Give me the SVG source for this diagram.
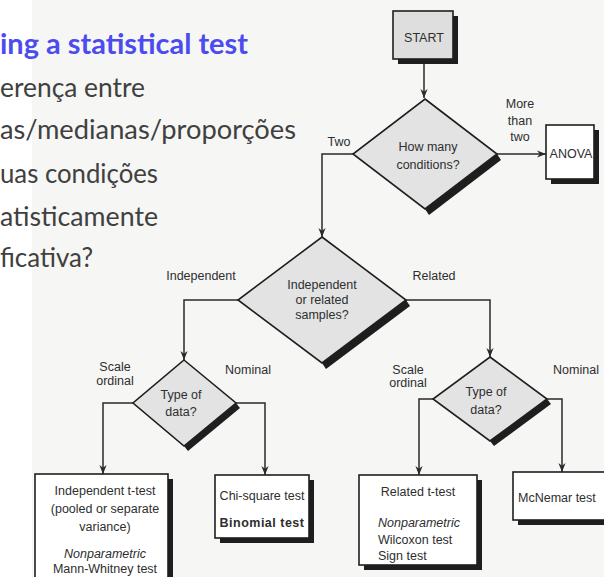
<svg xmlns="http://www.w3.org/2000/svg" width="604" height="577" viewBox="0 0 604 577">
<defs>
<style>
.t{font-family:"Liberation Sans",Arial,sans-serif;font-size:12.5px;fill:#2e2e2e}
.c{text-anchor:middle}
.slide{font-family:Lato,"Open Sans",sans-serif;font-size:27px;fill:#404040}
.title{font-family:Lato,"Open Sans",sans-serif;font-size:28px;font-weight:bold;fill:#4b4bef}
.box{fill:#fff;stroke:#1e1e1e;stroke-width:1.6}
.sh{fill:#1e1e1e}
.dia{fill:#e3e3e3;stroke:#1e1e1e;stroke-width:1.6}
.ln{fill:none;stroke:#2a2a2a;stroke-width:1.5}
</style>
<marker id="ah" viewBox="0 0 10 10" refX="10" refY="5" markerWidth="9" markerHeight="9" markerUnits="userSpaceOnUse" orient="auto">
<path d="M0,1 L10,5 L0,9 L3,5 Z" fill="#2a2a2a"/>
</marker>
</defs>
<rect x="0" y="0" width="604" height="577" fill="#ffffff"/>
<rect x="32" y="0" width="572" height="577" fill="#f6f6f5"/>

<g id="slide-text">
<text class="title" x="0" y="54" textLength="248" lengthAdjust="spacingAndGlyphs">ing a statistical test</text>
<text class="slide" x="0" y="97" textLength="145" lengthAdjust="spacingAndGlyphs">erença entre</text>
<text class="slide" x="0" y="139" textLength="296" lengthAdjust="spacingAndGlyphs">as/medianas/proporções</text>
<text class="slide" x="0" y="183" textLength="158" lengthAdjust="spacingAndGlyphs">uas condições</text>
<text class="slide" x="0" y="226" textLength="158" lengthAdjust="spacingAndGlyphs">atisticamente</text>
<text class="slide" x="0" y="267" textLength="93" lengthAdjust="spacingAndGlyphs">ficativa?</text>
</g>

<g id="connectors">
<path class="ln" d="M424,63 V98" marker-end="url(#ah)"/>
<path class="ln" d="M353,154 H322 V237" marker-end="url(#ah)"/>
<path class="ln" d="M497,154 H546" marker-end="url(#ah)"/>
<path class="ln" d="M238,300 H184 V360" marker-end="url(#ah)"/>
<path class="ln" d="M406,300 H490 V357" marker-end="url(#ah)"/>
<path class="ln" d="M133,403 H103 V474" marker-end="url(#ah)"/>
<path class="ln" d="M236,403 H265 V475" marker-end="url(#ah)"/>
<path class="ln" d="M433,399 H419 V475" marker-end="url(#ah)"/>
<path class="ln" d="M547,399 H562 V472" marker-end="url(#ah)"/>
</g>

<g id="labels">
<text class="t c" x="339" y="146">Two</text>
<text class="t c" x="520" y="108">More</text>
<text class="t c" x="520" y="125">than</text>
<text class="t c" x="520" y="141">two</text>
<text class="t c" x="201" y="280">Independent</text>
<text class="t c" x="434" y="280">Related</text>
<text class="t c" x="115" y="371">Scale</text>
<text class="t c" x="115" y="385">ordinal</text>
<text class="t c" x="248" y="374">Nominal</text>
<text class="t c" x="408" y="374">Scale</text>
<text class="t c" x="408" y="387">ordinal</text>
<text class="t c" x="576" y="374">Nominal</text>
</g>

<g id="start">
<rect class="sh" x="398" y="16" width="60" height="48"/>
<rect x="393" y="11" width="60" height="48" fill="#dedede" stroke="#1e1e1e" stroke-width="1.6"/>
<text class="t c" x="424" y="42">START</text>
</g>

<g id="how-many-conditions">
<polygon class="sh" points="497,154 425,209 429,215 501,160"/>
<polygon class="dia" points="425,99 497,154 425,209 353,154"/>
<text class="t c" x="428" y="151">How many</text>
<text class="t c" x="428" y="169">conditions?</text>
</g>

<g id="anova">
<rect class="sh" x="551" y="130" width="48" height="54"/>
<rect class="box" x="546" y="125" width="48" height="54"/>
<text class="t c" x="571" y="158">ANOVA</text>
</g>

<g id="independent-or-related">
<polygon class="sh" points="406,300 322,363 326,369 410,306"/>
<polygon class="dia" points="322,237 406,300 322,363 238,300"/>
<text class="t c" x="322" y="289">Independent</text>
<text class="t c" x="322" y="304">or related</text>
<text class="t c" x="322" y="319">samples?</text>
</g>

<g id="type-of-data-left">
<polygon class="sh" points="236,403 184,446 188,451 240,408"/>
<polygon class="dia" points="184,360 236,403 184,446 133,403"/>
<text class="t c" x="181" y="399">Type of</text>
<text class="t c" x="181" y="416">data?</text>
</g>

<g id="type-of-data-right">
<polygon class="sh" points="547,399 490,441 494,446 551,404"/>
<polygon class="dia" points="490,357 547,399 490,441 433,399"/>
<text class="t c" x="486" y="396">Type of</text>
<text class="t c" x="486" y="414">data?</text>
</g>

<g id="independent-t-test">
<rect class="sh" x="40" y="479" width="133" height="110"/>
<rect class="box" x="35" y="474" width="133" height="110"/>
<text class="t c" x="105" y="495">Independent t-test</text>
<text class="t c" x="105" y="513">(pooled or separate</text>
<text class="t c" x="105" y="531">variance)</text>
<text class="t c" x="105" y="558" font-style="italic">Nonparametric</text>
<text class="t c" x="105" y="573">Mann-Whitney test</text>
</g>

<g id="chi-square">
<rect class="sh" x="220" y="480" width="94" height="63"/>
<rect class="box" x="215" y="475" width="94" height="63"/>
<text class="t c" x="262" y="500">Chi-square test</text>
<text class="t c" x="262" y="527" letter-spacing="0.5" font-weight="bold" font-size="11">Binomial test</text>
</g>

<g id="related-t-test">
<rect class="sh" x="364" y="480" width="118" height="90"/>
<rect class="box" x="359" y="475" width="118" height="90"/>
<text class="t c" x="418" y="496">Related t-test</text>
<text class="t" x="378" y="527" font-style="italic">Nonparametric</text>
<text class="t" x="378" y="544">Wilcoxon test</text>
<text class="t" x="378" y="560">Sign test</text>
</g>

<g id="mcnemar">
<rect class="sh" x="518" y="477" width="100" height="48"/>
<rect class="box" x="513" y="472" width="100" height="48"/>
<text class="t" x="518" y="502">McNemar test</text>
</g>
</svg>
